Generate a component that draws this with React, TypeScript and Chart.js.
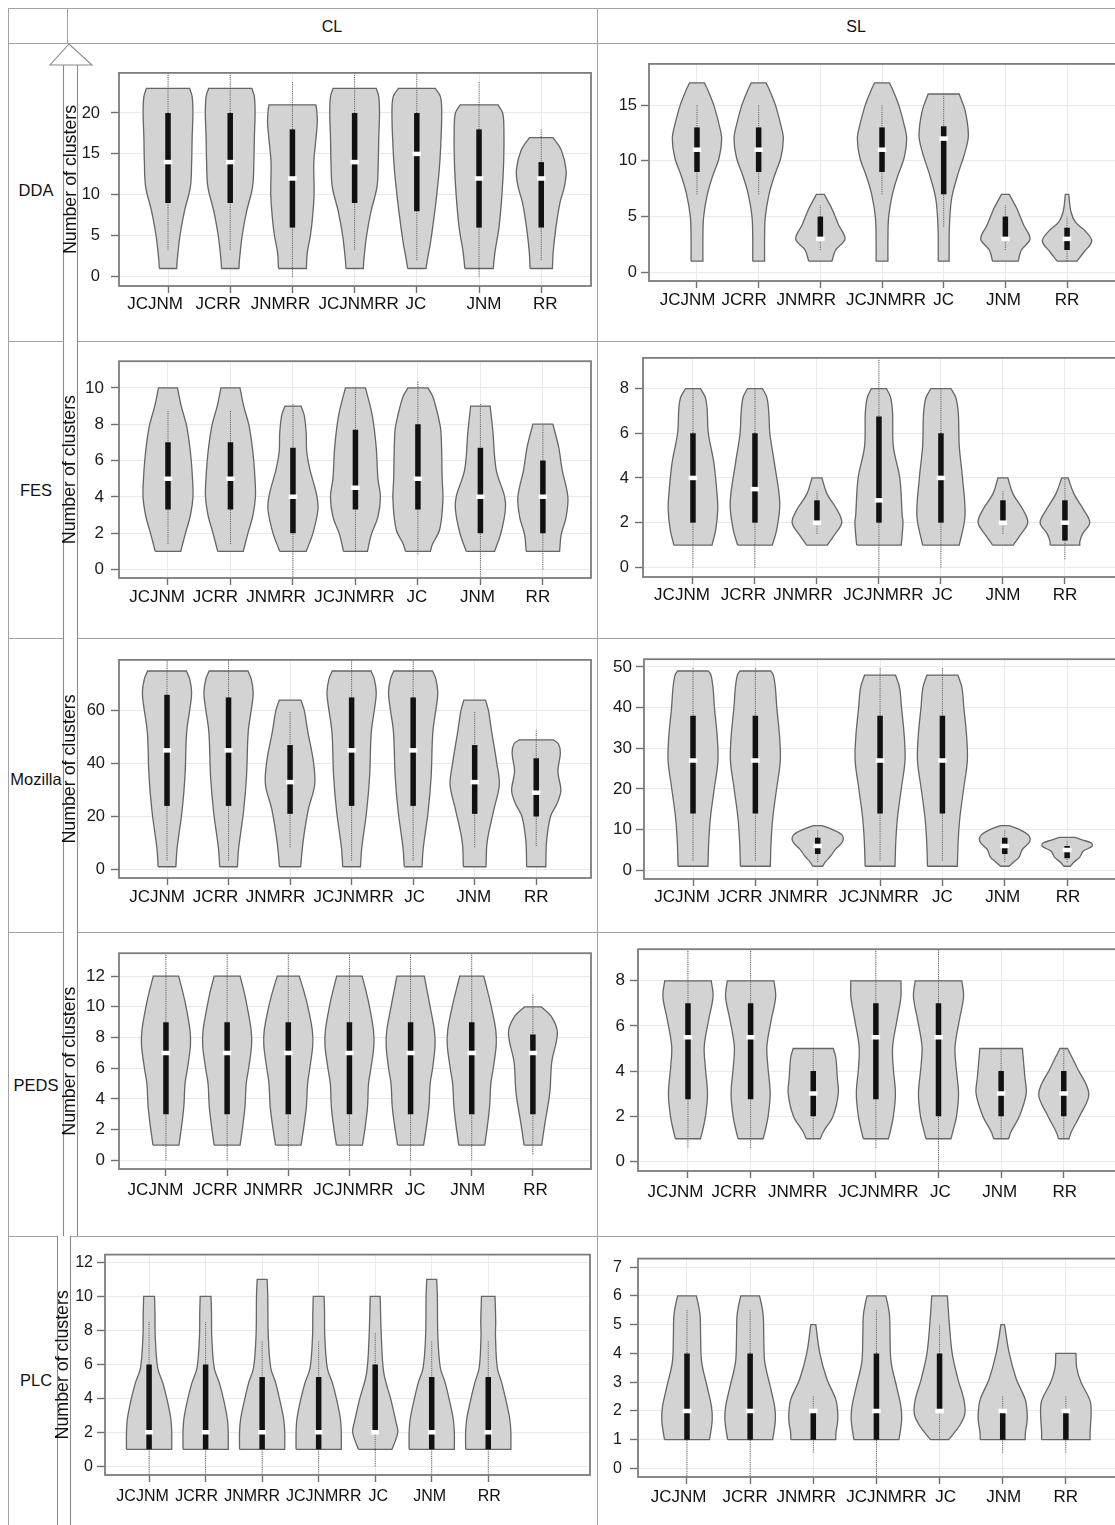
import React, { useEffect, useRef } from "react";
import { Chart, registerables } from "chart.js";

Chart.register(...registerables);

type Pt = [number, number];
type Shape = Pt[];

const FONT = "'Liberation Sans', Arial, sans-serif";

const CATEGORIES = ["JCJNM", "JCRR", "JNMRR", "JCJNMRR", "JC", "JNM", "RR"];
const COLUMN_LABELS = ["CL", "SL"];
const ROW_LABELS = ["DDA", "FES", "Mozilla", "PEDS", "PLC"];
const Y_TITLE = "Number of clusters";

// ---------- DDA / CL ----------
const DDA_CL_Q1 = [9, 9, 6, 9, 8, 6, 6];
const DDA_CL_MED = [14, 14, 12, 14, 15, 12, 12];
const DDA_CL_Q3 = [20, 20, 18, 20, 20, 18, 14];
const DDA_CL_LO = [3.3, 3.3, 0, 3.3, 2, 0, 2];
const DDA_CL_HI = [25, 25, 23.9, 25, 25, 23.9, 18.1];
const DDA_CL_SHAPES: Shape[] = [
  [[1, 0.35], [2, 0.37], [5, 0.48], [8, 0.66], [11, 0.9], [14, 0.95], [17, 0.97], [20, 1.0], [22, 0.97], [23, 0.87]],
  [[1, 0.35], [2, 0.37], [5, 0.48], [8, 0.66], [11, 0.9], [14, 0.95], [17, 0.97], [20, 1.0], [22, 0.97], [23, 0.87]],
  [[1, 0.56], [3, 0.6], [5, 0.72], [7, 0.8], [10, 0.87], [14, 0.86], [17, 0.95], [19, 1.0], [20.5, 0.97], [21, 0.94]],
  [[1, 0.35], [2, 0.37], [5, 0.48], [8, 0.66], [11, 0.9], [14, 0.95], [17, 0.97], [20, 1.0], [22, 0.97], [23, 0.87]],
  [[1, 0.37], [2, 0.42], [4, 0.54], [7, 0.68], [10, 0.8], [13, 0.9], [16, 0.96], [20, 1.0], [22, 0.95], [23, 0.74]],
  [[1, 0.57], [3, 0.64], [6, 0.8], [10, 0.92], [14, 0.99], [18, 1.0], [20, 0.95], [21, 0.76]],
  [[1, 0.45], [3, 0.48], [6, 0.59], [9, 0.75], [11, 0.93], [13, 1.0], [15.5, 0.8], [17, 0.47]],
];

// ---------- DDA / SL ----------
const DDA_SL_Q1 = [9, 9, 3, 9, 7, 3, 2];
const DDA_SL_MED = [11, 11, 3, 11, 12, 3, 3];
const DDA_SL_Q3 = [13, 13, 5, 13, 13.1, 5, 4];
const DDA_SL_LO = [7, 7, 2, 7, 4.1, 2, 1];
const DDA_SL_HI = [15, 15, 6, 15, 16, 6, 5];
const DDA_SL_SHAPES: Shape[] = [
  [[1, 0.24], [3, 0.24], [5, 0.27], [7, 0.42], [8.6, 0.63], [10.3, 0.9], [12, 1.0], [13.2, 0.9], [15, 0.68], [16.3, 0.45], [17, 0.3]],
  [[1, 0.24], [3, 0.24], [5, 0.27], [7, 0.42], [8.6, 0.63], [10.3, 0.9], [12, 1.0], [13.2, 0.9], [15, 0.68], [16.3, 0.45], [17, 0.3]],
  [[1, 0.47], [2, 0.62], [3, 1.0], [4.25, 0.74], [5.7, 0.47], [6.5, 0.28], [7, 0.16]],
  [[1, 0.24], [3, 0.24], [5, 0.27], [7, 0.42], [8.6, 0.63], [10.3, 0.9], [12, 1.0], [13.2, 0.9], [15, 0.68], [16.3, 0.45], [17, 0.3]],
  [[1, 0.22], [4, 0.23], [6.6, 0.32], [8.6, 0.55], [10.9, 0.88], [12.3, 1.0], [14.4, 0.88], [16, 0.63]],
  [[1, 0.52], [2, 0.65], [3, 1.0], [4.25, 0.74], [5.7, 0.47], [6.5, 0.28], [7, 0.16]],
  [[1, 0.4], [1.8, 0.68], [2.8, 1.0], [3.7, 0.74], [4.5, 0.34], [5.5, 0.15], [7, 0.07]],
];

// ---------- FES / CL ----------
const FES_CL_Q1 = [3.3, 3.3, 2, 3.3, 3.3, 2, 2];
const FES_CL_MED = [5, 5, 4, 4.5, 5, 4, 4];
const FES_CL_Q3 = [7, 7, 6.7, 7.7, 8, 6.7, 6];
const FES_CL_LO = [1.4, 1.4, -1, 1, 0.83, -1, 0];
const FES_CL_HI = [8.8, 8.8, 9.1, 10, 10.4, 9.1, 8];
const FES_CL_SHAPES: Shape[] = [
  [[1, 0.51], [2, 0.7], [3, 0.9], [4, 1.0], [5, 0.98], [6, 0.93], [7, 0.85], [8, 0.73], [9, 0.53], [10, 0.38]],
  [[1, 0.51], [2, 0.7], [3, 0.9], [4, 1.0], [5, 0.98], [6, 0.93], [7, 0.85], [8, 0.73], [9, 0.53], [10, 0.38]],
  [[1, 0.53], [2, 0.8], [3.3, 1.0], [4.1, 0.95], [5.5, 0.68], [6.5, 0.55], [7.5, 0.53], [8.5, 0.45], [9, 0.32]],
  [[1, 0.48], [1.9, 0.63], [2.9, 0.9], [4, 1.0], [5, 0.9], [6.75, 0.83], [8.5, 0.67], [10, 0.4]],
  [[1, 0.5], [1.35, 0.57], [2.2, 0.87], [3.8, 1.0], [5, 0.97], [7.6, 0.92], [8.5, 0.8], [9.5, 0.6], [10, 0.4]],
  [[1, 0.57], [2.05, 0.83], [3.3, 1.0], [4, 0.97], [5.5, 0.63], [7.6, 0.5], [9, 0.39]],
  [[1, 0.67], [1.9, 0.73], [2.9, 0.93], [4, 1.0], [5.5, 0.77], [6.75, 0.63], [8, 0.4]],
];

// ---------- FES / SL ----------
const FES_SL_Q1 = [2, 2, 2, 2, 2, 2, 1.2];
const FES_SL_MED = [4, 3.5, 2, 3, 4, 2, 2];
const FES_SL_Q3 = [6, 6, 3, 6.75, 6, 3, 3];
const FES_SL_LO = [0, 0, 1.5, -1, 0, 1.5, 0.36];
const FES_SL_HI = [8, 8, 3.4, 9.4, 8, 3.4, 4];
const FES_SL_SHAPES: Shape[] = [
  [[1, 0.77], [1.7, 0.92], [2.6, 1.0], [3.3, 0.97], [4.7, 0.84], [6, 0.62], [7.1, 0.57], [7.6, 0.5], [8, 0.3]],
  [[1, 0.7], [1.7, 0.88], [2.9, 1.0], [4.7, 0.78], [6, 0.6], [6.9, 0.56], [7.6, 0.48], [8, 0.3]],
  [[1, 0.42], [1.4, 0.67], [2, 1.0], [2.6, 0.8], [3.3, 0.4], [4, 0.2]],
  [[1, 0.9], [2, 0.97], [2.3, 0.94], [4, 0.84], [5.4, 0.58], [6.9, 0.55], [7.6, 0.47], [8, 0.3]],
  [[1, 0.74], [2.3, 0.97], [4, 0.87], [5.4, 0.74], [6.9, 0.7], [7.6, 0.6], [8, 0.4]],
  [[1, 0.42], [1.4, 0.67], [2, 1.0], [2.6, 0.8], [3.3, 0.4], [4, 0.2]],
  [[1, 0.6], [1.15, 0.6], [1.5, 0.71], [2, 1.0], [2.6, 0.74], [3.3, 0.36], [4, 0.13]],
];

// ---------- Mozilla / CL ----------
const MOZ_CL_Q1 = [24, 24, 21, 24, 24, 21, 20];
const MOZ_CL_MED = [45, 45, 33, 45, 45, 33, 29];
const MOZ_CL_Q3 = [66, 65, 47, 65, 65, 47, 42];
const MOZ_CL_LO = [3.4, 3.4, 8.4, 3.4, 3.4, 8.4, 8.8];
const MOZ_CL_HI = [80, 80, 60, 80, 80, 60, 53];
const MOZ_CL_SHAPES: Shape[] = [
  [[1, 0.36], [8, 0.41], [22, 0.61], [35, 0.73], [52, 0.8], [62, 0.95], [67, 1.0], [72, 0.92], [75, 0.79]],
  [[1, 0.36], [8, 0.41], [22, 0.61], [35, 0.73], [52, 0.8], [62, 0.95], [67, 1.0], [72, 0.92], [75, 0.79]],
  [[1, 0.43], [10.6, 0.53], [22.6, 0.74], [32, 1.0], [40.6, 0.95], [52.6, 0.71], [60, 0.58], [64, 0.44]],
  [[1, 0.36], [8, 0.41], [22, 0.61], [35, 0.73], [52, 0.8], [62, 0.95], [67, 1.0], [72, 0.92], [75, 0.79]],
  [[1, 0.36], [8, 0.41], [22, 0.61], [35, 0.73], [52, 0.8], [62, 0.95], [67, 1.0], [72, 0.92], [75, 0.79]],
  [[1, 0.46], [10.6, 0.51], [22.6, 0.78], [32, 1.0], [40, 0.9], [52.6, 0.68], [60, 0.56], [64, 0.44]],
  [[1, 0.39], [10.6, 0.42], [20, 0.58], [25, 0.85], [29.8, 1.0], [37, 0.88], [44, 0.98], [47.5, 0.9], [49, 0.68]],
];

// ---------- Mozilla / SL ----------
const MOZ_SL_Q1 = [14, 14, 4, 14, 14, 4, 3];
const MOZ_SL_MED = [27, 27, 6, 27, 27, 6, 5];
const MOZ_SL_Q3 = [38, 38, 8, 38, 38, 8, 6];
const MOZ_SL_LO = [2.4, 2.4, 2, 2.4, 2.4, 2, 2];
const MOZ_SL_HI = [50, 50, 10, 50, 50, 10, 7.5];
const MOZ_SL_SHAPES: Shape[] = [
  [[1, 0.6], [7, 0.63], [13, 0.7], [20, 0.85], [27, 1.0], [33, 0.97], [40, 0.86], [45, 0.8], [48, 0.72], [49, 0.62]],
  [[1, 0.6], [7, 0.63], [13, 0.7], [20, 0.85], [27, 1.0], [33, 0.97], [40, 0.86], [45, 0.8], [48, 0.72], [49, 0.62]],
  [[1, 0.2], [2, 0.3], [3.6, 0.53], [5.1, 0.7], [7.1, 1.0], [8.7, 0.97], [10, 0.6], [11, 0.17]],
  [[1, 0.6], [7, 0.63], [13, 0.7], [20, 0.85], [27, 1.0], [33, 0.97], [40, 0.86], [45, 0.78], [48, 0.62]],
  [[1, 0.6], [7, 0.63], [13, 0.7], [20, 0.85], [27, 1.0], [33, 0.97], [40, 0.86], [45, 0.78], [48, 0.62]],
  [[1, 0.17], [2, 0.35], [3.2, 0.57], [5.1, 0.7], [7.1, 1.0], [8.7, 0.94], [10, 0.6], [11, 0.17]],
  [[1, 0.13], [2, 0.27], [3.2, 0.5], [4.7, 0.64], [5.9, 1.0], [6.7, 0.97], [7.5, 0.6], [8.1, 0.3]],
];

// ---------- PEDS / CL ----------
const PEDS_CL_Q1 = [3, 3, 3, 3, 3, 3, 3];
const PEDS_CL_MED = [7, 7, 7, 7, 7, 7, 7];
const PEDS_CL_Q3 = [9, 9, 9, 9, 9, 9, 8.2];
const PEDS_CL_LO = [0, 0, 0, 0, 0, 0, 0.4];
const PEDS_CL_HI = [14, 14, 14, 14, 14, 14, 10.8];
const PEDS_CL_SHAPES: Shape[] = [
  [[1, 0.53], [2, 0.62], [3.5, 0.73], [5, 0.78], [6, 0.88], [7.5, 1.0], [8.5, 0.98], [10, 0.82], [11, 0.68], [12, 0.52]],
  [[1, 0.53], [2, 0.62], [3.5, 0.73], [5, 0.78], [6, 0.88], [7.5, 1.0], [8.5, 0.98], [10, 0.82], [11, 0.69], [12, 0.53]],
  [[1, 0.52], [2, 0.62], [3.5, 0.74], [5, 0.79], [6, 0.88], [7.5, 1.0], [8.5, 0.98], [10, 0.8], [11, 0.64], [12, 0.45]],
  [[1, 0.53], [2, 0.63], [3.5, 0.74], [5, 0.78], [6, 0.88], [7.5, 1.0], [8.5, 0.98], [10, 0.82], [11, 0.68], [12, 0.52]],
  [[1, 0.53], [2, 0.63], [3.5, 0.75], [5, 0.8], [6, 0.9], [7.5, 1.0], [8.5, 0.97], [10, 0.8], [11, 0.68], [12, 0.56]],
  [[1, 0.53], [2, 0.62], [3.5, 0.73], [5, 0.78], [6, 0.88], [7.5, 1.0], [8.5, 0.98], [10, 0.8], [11, 0.65], [12, 0.49]],
  [[1, 0.36], [2.3, 0.48], [4.4, 0.69], [6.4, 0.77], [8.3, 1.0], [9.3, 0.78], [10, 0.34]],
];

// ---------- PEDS / SL ----------
const PEDS_SL_Q1 = [2.75, 2.75, 2, 2.75, 2, 2, 2];
const PEDS_SL_MED = [5.5, 5.5, 3, 5.5, 5.5, 3, 3];
const PEDS_SL_Q3 = [7, 7, 4, 7, 7, 4, 4];
const PEDS_SL_LO = [0.6, 0.6, 1, 0.6, -1, 1, 1];
const PEDS_SL_HI = [9.4, 9.4, 5, 9.4, 9.5, 5, 5];
const PEDS_SL_SHAPES: Shape[] = [
  [[1, 0.5], [1.3, 0.57], [2, 0.7], [3, 0.78], [4.2, 0.69], [5.1, 0.65], [6.3, 0.83], [7.3, 1.0], [8, 0.93]],
  [[1, 0.5], [1.3, 0.57], [2, 0.7], [3, 0.78], [4.2, 0.69], [5.1, 0.65], [6.3, 0.83], [7.3, 1.0], [8, 0.93]],
  [[1, 0.28], [1.3, 0.4], [2, 0.79], [3, 1.0], [3.7, 0.96], [4.6, 0.9], [5, 0.8]],
  [[1, 0.5], [1.3, 0.57], [2, 0.7], [3, 0.78], [4.2, 0.69], [5.1, 0.67], [6.3, 0.85], [7.3, 1.0], [8, 1.0]],
  [[1, 0.5], [1.3, 0.57], [2, 0.72], [3, 0.8], [4.2, 0.7], [5.1, 0.66], [6.3, 0.84], [7.3, 1.0], [8, 0.93]],
  [[1, 0.3], [1.3, 0.39], [2, 0.73], [3, 1.0], [3.7, 0.95], [4.6, 0.88], [5, 0.85]],
  [[1, 0.21], [1.3, 0.3], [2, 0.63], [3, 1.0], [4.15, 0.53], [5, 0.15]],
];

// ---------- PLC / CL ----------
const PLC_CL_Q1 = [1, 1, 1, 1, 2, 1, 1];
const PLC_CL_MED = [2, 2, 2, 2, 2, 2, 2];
const PLC_CL_Q3 = [6, 6, 5.25, 5.25, 6, 5.25, 5.25];
const PLC_CL_LO = [-1, -1, -1, -1, 0, -1, -1];
const PLC_CL_HI = [8.5, 8.5, 7.4, 7.4, 7.9, 7.4, 7.4];
const PLC_CL_SHAPES: Shape[] = [
  [[1, 1.0], [2, 1.0], [2.8, 0.96], [3.9, 0.8], [4.9, 0.61], [5.8, 0.38], [7.7, 0.27], [9, 0.26], [10, 0.24]],
  [[1, 1.0], [2, 1.0], [2.8, 0.96], [3.9, 0.8], [4.9, 0.61], [5.8, 0.38], [7.7, 0.27], [9, 0.26], [10, 0.24]],
  [[1, 1.0], [2, 1.0], [2.8, 0.95], [3.9, 0.78], [4.9, 0.6], [5.8, 0.38], [7.7, 0.27], [10, 0.25], [11, 0.22]],
  [[1, 1.0], [2, 1.0], [2.8, 0.96], [3.9, 0.8], [4.9, 0.61], [5.8, 0.38], [7.7, 0.27], [9, 0.26], [10, 0.24]],
  [[1, 0.74], [1.5, 0.89], [2.05, 1.0], [2.6, 0.92], [3.9, 0.7], [5.5, 0.38], [7.7, 0.27], [10, 0.22]],
  [[1, 1.0], [2, 1.0], [2.8, 0.95], [3.9, 0.78], [4.9, 0.6], [5.8, 0.38], [7.7, 0.27], [10, 0.25], [11, 0.22]],
  [[1, 1.0], [2, 1.0], [2.8, 0.95], [3.9, 0.78], [4.9, 0.6], [5.8, 0.4], [7.7, 0.32], [8.5, 0.33], [10, 0.3]],
];

// ---------- PLC / SL ----------
const PLC_SL_Q1 = [1, 1, 1, 1, 2, 1, 1];
const PLC_SL_MED = [2, 2, 2, 2, 2, 2, 2];
const PLC_SL_Q3 = [4, 4, 2, 4, 4, 2, 2];
const PLC_SL_LO = [-0.5, -0.5, 0.55, -0.5, 1, 0.55, 0.55];
const PLC_SL_HI = [5.5, 5.5, 2.5, 5.5, 5, 2.5, 2.5];
const PLC_SL_SHAPES: Shape[] = [
  [[1, 0.89], [1.26, 0.94], [1.7, 1.0], [2.15, 0.97], [2.8, 0.81], [3.7, 0.58], [4.55, 0.54], [5.3, 0.52], [5.7, 0.45], [6, 0.37]],
  [[1, 0.89], [1.26, 0.94], [1.7, 1.0], [2.15, 0.97], [2.8, 0.81], [3.7, 0.58], [4.55, 0.54], [5.3, 0.52], [5.7, 0.45], [6, 0.37]],
  [[1, 0.89], [1.26, 0.9], [1.6, 0.96], [1.9, 0.97], [2.4, 0.89], [3.1, 0.54], [4, 0.26], [5, 0.1]],
  [[1, 0.89], [1.26, 0.94], [1.7, 1.0], [2.15, 0.97], [2.8, 0.81], [3.7, 0.58], [4.55, 0.54], [5.3, 0.52], [5.7, 0.45], [6, 0.37]],
  [[1, 0.36], [1.15, 0.5], [1.5, 0.8], [1.9, 1.0], [2.4, 0.96], [3.1, 0.73], [4, 0.5], [5.1, 0.38], [6, 0.31]],
  [[1, 0.89], [1.26, 0.9], [1.6, 0.96], [1.9, 0.97], [2.4, 0.89], [3.1, 0.54], [4, 0.26], [5, 0.07]],
  [[1, 0.96], [1.26, 0.96], [1.9, 1.0], [2.35, 0.96], [3, 0.6], [3.5, 0.43], [4, 0.4]],
];

// ---------- panel layout (positions / axis ranges / label placement) ----------
interface PanelCfg {
  q1: number[]; med: number[]; q3: number[]; lo: number[]; hi: number[];
  shapes: Shape[];
  yMin: number; yMax: number; yStep: number;
  xMin: number; xMax: number;
  frame: [number, number, number, number];
  titleX?: number;
  tickPad: number; tickFont: number; labelPad: number; labelFont: number;
  labelShift: number[];
}

const PANELS: PanelCfg[] = [
  { q1: DDA_CL_Q1, med: DDA_CL_MED, q3: DDA_CL_Q3, lo: DDA_CL_LO, hi: DDA_CL_HI, shapes: DDA_CL_SHAPES,
    yMin: -1.14, yMax: 24.9, yStep: 5, xMin: 0.212, xMax: 7.8, frame: [119, 58, 591, 286], titleX: 71,
    tickPad: 11, tickFont: 16.5, labelPad: 1, labelFont: 17, labelShift: [-13, -12, -12, 4, -1, 5, 4] },
  { q1: DDA_SL_Q1, med: DDA_SL_MED, q3: DDA_SL_Q3, lo: DDA_SL_LO, hi: DDA_SL_HI, shapes: DDA_SL_SHAPES,
    yMin: -0.78, yMax: 18.7, yStep: 5, xMin: 0.222, xMax: 7.81, frame: [649, 56, 1117, 281],
    tickPad: 4, tickFont: 16.5, labelPad: 2, labelFont: 17, labelShift: [-9.5, -14.5, -14, 4, 0, -2, 0] },
  { q1: FES_CL_Q1, med: FES_CL_MED, q3: FES_CL_Q3, lo: FES_CL_LO, hi: FES_CL_HI, shapes: FES_CL_SHAPES,
    yMin: -0.47, yMax: 11.47, yStep: 2, xMin: 0.216, xMax: 7.77, frame: [119, 350, 591, 578], titleX: 70,
    tickPad: 7, tickFont: 17, labelPad: 2, labelFont: 17, labelShift: [-11, -15, -17, -1, -1, -3, -5] },
  { q1: FES_SL_Q1, med: FES_SL_MED, q3: FES_SL_Q3, lo: FES_SL_LO, hi: FES_SL_HI, shapes: FES_SL_SHAPES,
    yMin: -0.43, yMax: 9.37, yStep: 2, xMin: 0.194, xMax: 7.84, frame: [643, 348, 1117, 577],
    tickPad: 6, tickFont: 16.5, labelPad: 1, labelFont: 17, labelShift: [-11, -11.5, -14, 4.5, 1.5, 0, 0] },
  { q1: MOZ_CL_Q1, med: MOZ_CL_MED, q3: MOZ_CL_Q3, lo: MOZ_CL_LO, hi: MOZ_CL_HI, shapes: MOZ_CL_SHAPES,
    yMin: -3.25, yMax: 79.2, yStep: 20, xMin: 0.22, xMax: 7.89, frame: [119, 650, 591, 878], titleX: 70,
    tickPad: 6, tickFont: 16.5, labelPad: 2, labelFont: 17, labelShift: [-10, -13, -14.5, 2, 1.5, -1, 0] },
  { q1: MOZ_SL_Q1, med: MOZ_SL_MED, q3: MOZ_SL_Q3, lo: MOZ_SL_LO, hi: MOZ_SL_HI, shapes: MOZ_SL_SHAPES,
    yMin: -2.13, yMax: 51.9, yStep: 10, xMin: 0.214, xMax: 7.8, frame: [644, 651, 1117, 879],
    tickPad: 4, tickFont: 17, labelPad: 1, labelFont: 17, labelShift: [-11, -15.5, -19.5, -1.5, 0, -2, 1] },
  { q1: PEDS_CL_Q1, med: PEDS_CL_MED, q3: PEDS_CL_Q3, lo: PEDS_CL_LO, hi: PEDS_CL_HI, shapes: PEDS_CL_SHAPES,
    yMin: -0.56, yMax: 13.49, yStep: 2, xMin: 0.232, xMax: 7.95, frame: [119, 943, 591, 1169], titleX: 70,
    tickPad: 6, tickFont: 17, labelPad: 4, labelFont: 17, labelShift: [-10.5, -12, -15, 4, 4.5, -4, 2.5] },
  { q1: PEDS_SL_Q1, med: PEDS_SL_MED, q3: PEDS_SL_Q3, lo: PEDS_SL_LO, hi: PEDS_SL_HI, shapes: PEDS_SL_SHAPES,
    yMin: -0.43, yMax: 9.4, yStep: 2, xMin: 0.202, xMax: 7.85, frame: [638, 940, 1117, 1171],
    tickPad: 5, tickFont: 17, labelPad: 4, labelFont: 17, labelShift: [-12.5, -16.5, -15.5, 2.5, 2, -1.5, 1] },
  { q1: PLC_CL_Q1, med: PLC_CL_MED, q3: PLC_CL_Q3, lo: PLC_CL_LO, hi: PLC_CL_HI, shapes: PLC_CL_SHAPES,
    yMin: -0.51, yMax: 12.46, yStep: 2, xMin: 0.22, xMax: 8.8, frame: [105, 1247, 590, 1475], titleX: 63,
    tickPad: 4, tickFont: 16, labelPad: 5, labelFont: 16, labelShift: [-6.5, -9, -10, 5, 3, -2, 1] },
  { q1: PLC_SL_Q1, med: PLC_SL_MED, q3: PLC_SL_Q3, lo: PLC_SL_LO, hi: PLC_SL_HI, shapes: PLC_SL_SHAPES,
    yMin: -0.3, yMax: 7.3, yStep: 1, xMin: 0.224, xMax: 7.81, frame: [638, 1247, 1117, 1477],
    tickPad: 8, tickFont: 16, labelPad: 3, labelFont: 17, labelShift: [-8.5, -5, -7, 10, 6, 1, 0] },
];

const HALF = 0.4;
const VIOLIN_FILL = "#d3d3d3";
const VIOLIN_EDGE = "#666666";

function violinOutline(center: number, shape: Shape) {
  const n = shape.length;
  const L = shape.map(([y, w]) => ({ x: center - w * HALF, y }));
  const R = shape.map(([y, w]) => ({ x: center + w * HALF, y }));
  const pts: { x: number; y: number }[] = [];
  const dup = (p: { x: number; y: number }) => { pts.push({ ...p }); pts.push({ ...p }); };
  dup(L[0]);
  for (let k = 1; k < n - 1; k++) pts.push({ ...L[k] });
  dup(L[n - 1]);
  dup(R[n - 1]);
  for (let k = n - 2; k >= 1; k--) pts.push({ ...R[k] });
  dup(R[0]);
  dup(L[0]);
  return pts;
}

function buildDatasets(cfg: PanelCfg) {
  const ds: any[] = [];
  cfg.shapes.forEach((shape, i) => {
    const c = i + 1;
    ds.push({
      data: violinOutline(c, shape), fill: "shape", backgroundColor: VIOLIN_FILL,
      borderColor: VIOLIN_EDGE, borderWidth: 1.3, tension: 0.35, pointRadius: 0, order: 4,
    });
    ds.push({
      data: [{ x: c, y: cfg.lo[i] }, { x: c, y: cfg.hi[i] }], fill: false,
      borderColor: "#505050", borderWidth: 1, borderDash: [1, 1.2], pointRadius: 0, order: 3,
    });
    ds.push({
      data: [{ x: c, y: cfg.q1[i] }, { x: c, y: cfg.q3[i] }], fill: false,
      borderColor: "#111111", borderWidth: 5.5, borderCapStyle: "butt", pointRadius: 0, order: 2,
    });
    ds.push({
      data: [{ x: c - 0.068, y: cfg.med[i] }, { x: c + 0.068, y: cfg.med[i] }], fill: false,
      borderColor: "#ffffff", borderWidth: 4.5, borderCapStyle: "butt", pointRadius: 0, order: 1,
    });
  });
  return ds;
}

const framePlugin = {
  id: "panelFrame",
  afterDatasetsDraw(chart: any) {
    const { ctx, chartArea: a } = chart;
    ctx.save();
    ctx.strokeStyle = "#7c7c7c";
    ctx.lineWidth = 1.8;
    ctx.strokeRect(a.left, a.top, a.right - a.left, a.bottom - a.top);
    ctx.restore();
  },
};

function makeLabelPlugin(cfg: PanelCfg) {
  return {
    id: "categoryLabels",
    afterDraw(chart: any) {
      const { ctx, chartArea, scales } = chart;
      const xs = scales.x;
      ctx.save();
      ctx.font = `${cfg.labelFont}px ${FONT}`;
      ctx.fillStyle = "#111111";
      ctx.textAlign = "center";
      ctx.textBaseline = "middle";
      const y = chartArea.bottom + 7 + cfg.labelPad + cfg.labelFont * 0.6;
      xs.ticks.forEach((t: any) => {
        const i = Math.round(t.value) - 1;
        if (i < 0 || i >= CATEGORIES.length) return;
        ctx.fillText(CATEGORIES[i], xs.getPixelForValue(t.value) + (cfg.labelShift[i] || 0), y);
      });
      ctx.restore();
    },
  };
}

function Panel({ cfg }: { cfg: PanelCfg }) {
  const ref = useRef<HTMLCanvasElement | null>(null);
  const [fl, ft, fr, fb] = cfg.frame;
  const canvasLeft = cfg.titleX !== undefined ? Math.round(cfg.titleX - 10.7) : fl - 44;
  const canvasTop = ft - 6;
  const canvasRight = fr + 4;
  const canvasBottom = fb + 42;
  const W = canvasRight - canvasLeft;
  const H = canvasBottom - canvasTop;
  const yW = fl - canvasLeft;
  const xH = canvasBottom - fb;

  useEffect(() => {
    if (!ref.current) return;
    const chart = new Chart(ref.current, {
      type: "line",
      data: { datasets: buildDatasets(cfg) },
      options: {
        animation: false,
        responsive: false,
        devicePixelRatio: 1,
        events: [],
        layout: { padding: { top: ft - canvasTop, right: canvasRight - fr, left: 0, bottom: 0 }, autoPadding: false },
        plugins: { legend: { display: false }, tooltip: { enabled: false } },
        scales: {
          x: {
            type: "linear", min: cfg.xMin, max: cfg.xMax,
            afterBuildTicks: (s: any) => { s.ticks = s.ticks.filter((t: any) => t.value >= 1 && t.value <= 7 && Number.isInteger(t.value)); },
            afterFit: (s: any) => { s.height = xH; },
            border: { display: false },
            grid: { color: "#e9e9e9", lineWidth: 1, tickColor: "#6f6f6f", tickLength: 7, tickWidth: 1.4 },
            ticks: {
              display: false, stepSize: 1, autoSkip: false, maxRotation: 0, minRotation: 0, includeBounds: false,
              callback: (v: any) => CATEGORIES[Number(v) - 1] ?? "",
            },
          },
          y: {
            type: "linear", min: cfg.yMin, max: cfg.yMax,
            afterFit: (s: any) => { s.width = yW; },
            border: { display: false },
            grid: { color: "#e9e9e9", lineWidth: 1, tickColor: "#6f6f6f", tickLength: 8, tickWidth: 1.4 },
            ticks: {
              stepSize: cfg.yStep, autoSkip: false, includeBounds: false, padding: cfg.tickPad,
              color: "#1a1a1a", font: { family: FONT, size: cfg.tickFont },
            },
            title: {
              display: cfg.titleX !== undefined, text: Y_TITLE, color: "#111111",
              font: { family: FONT, size: 17.8 }, padding: { top: 0, bottom: 0 },
            },
          },
        },
      } as any,
      plugins: [framePlugin, makeLabelPlugin(cfg)],
    });
    return () => chart.destroy();
  }, []);

  return (
    <canvas
      ref={ref}
      width={W}
      height={H}
      style={{ position: "absolute", left: canvasLeft, top: canvasTop, width: W, height: H }}
    />
  );
}

const LINE = "#a3a3a3";

function Label({ x, y, text, size }: { x: number; y: number; text: string; size: number }) {
  return (
    <div style={{
      position: "absolute", left: x, top: y, transform: "translate(-50%, -50%)",
      fontFamily: FONT, fontSize: size, color: "#111", whiteSpace: "nowrap", lineHeight: 1,
    }}>{text}</div>
  );
}

export default function App() {
  const rowY = [190, 490, 779, 1085, 1380];
  return (
    <div style={{ position: "absolute", left: 0, top: 0, width: 1115, height: 1525, overflow: "hidden", background: "#ffffff" }}>
      <svg width={1115} height={1525} style={{ position: "absolute", left: 0, top: 0 }}>
        <g stroke={LINE} strokeWidth={1} fill="none" shapeRendering="crispEdges">
          <line x1={8} y1={8.5} x2={1115} y2={8.5} />
          <line x1={8} y1={43.5} x2={1115} y2={43.5} />
          <line x1={8.5} y1={8} x2={8.5} y2={1525} />
          <line x1={67.5} y1={8} x2={67.5} y2={43} />
          <line x1={597.5} y1={8} x2={597.5} y2={1525} />
          <line x1={8} y1={341.5} x2={63} y2={341.5} />
          <line x1={77} y1={341.5} x2={1115} y2={341.5} />
          <line x1={8} y1={638.5} x2={63} y2={638.5} />
          <line x1={77} y1={638.5} x2={1115} y2={638.5} />
          <line x1={8} y1={932.5} x2={63} y2={932.5} />
          <line x1={77} y1={932.5} x2={1115} y2={932.5} />
          <line x1={8} y1={1236.5} x2={57} y2={1236.5} />
          <line x1={70} y1={1236.5} x2={1115} y2={1236.5} />
        </g>
        <g stroke="#8a8a8a" strokeWidth={1.1} fill="none">
          <polygon points="63,65 50,65 69,44 92,65 77,65" fill="#ffffff" />
          <line x1={63.5} y1={65} x2={63.5} y2={1236} />
          <line x1={77.5} y1={65} x2={77.5} y2={1236} />
          <line x1={57.5} y1={1236} x2={57.5} y2={1525} />
          <line x1={70.5} y1={1236} x2={70.5} y2={1525} />
        </g>
      </svg>
      <Label x={332} y={27} text={COLUMN_LABELS[0]} size={16} />
      <Label x={856} y={27} text={COLUMN_LABELS[1]} size={16} />
      {ROW_LABELS.map((r, i) => (
        <Label key={r} x={36} y={rowY[i]} text={r} size={16.5} />
      ))}
      {PANELS.map((p, i) => (
        <Panel key={i} cfg={p} />
      ))}
    </div>
  );
}
